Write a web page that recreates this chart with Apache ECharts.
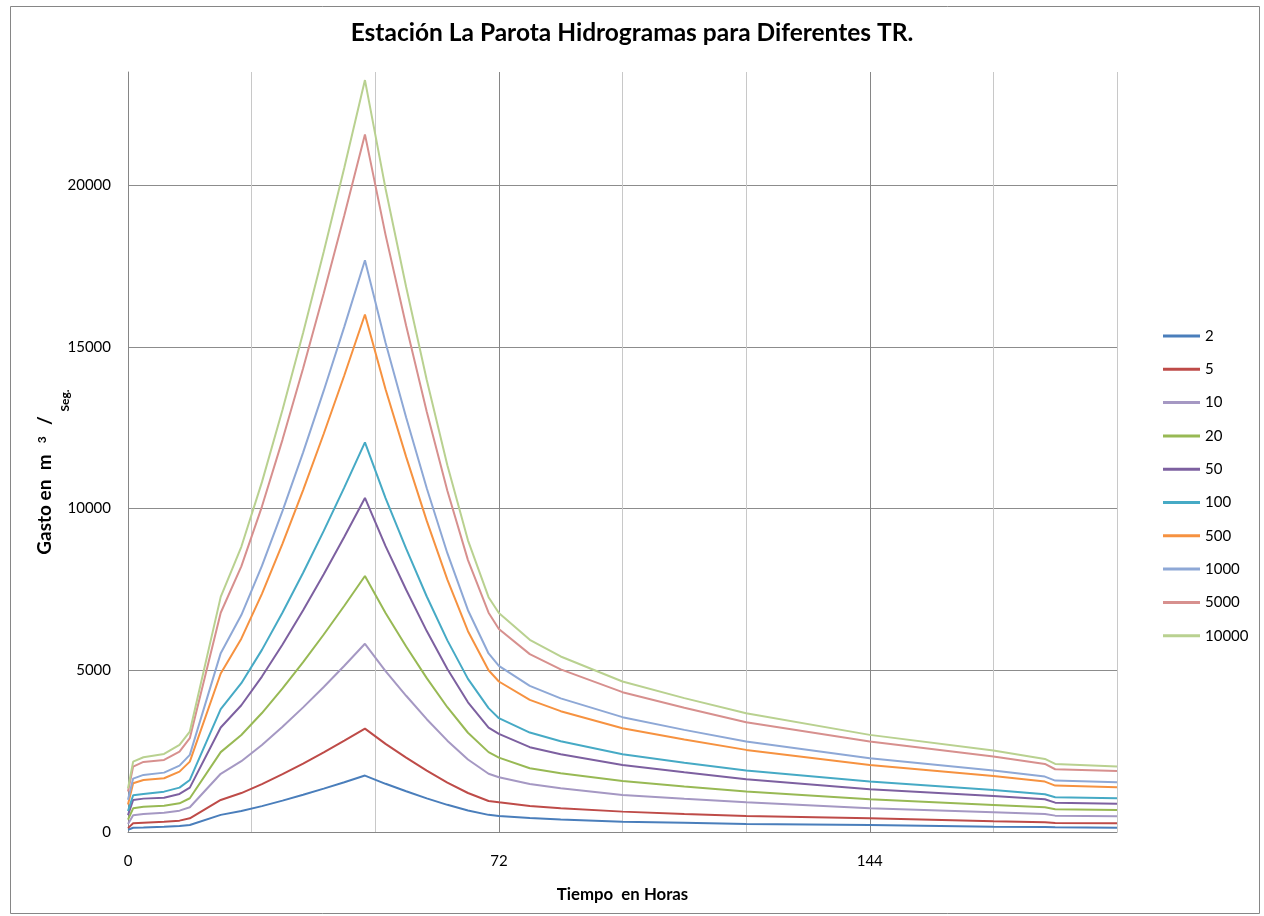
<!DOCTYPE html>
<html><head><meta charset="utf-8">
<script src="https://cdn.jsdelivr.net/npm/echarts@6/dist/echarts.min.js"></script>
<style>html,body{margin:0;padding:0;background:#fff}#c{width:1264px;height:916px}</style>
</head><body><div id="c"></div>
<script>
// Time axis (hours)
const hours = [0, 1, 3, 7, 10, 12, 18, 22, 26, 30, 34, 38, 42, 46, 50, 54, 58, 62, 66, 70, 72, 78, 84, 96, 108, 120, 144, 168, 178, 180, 192];
// Return periods (legend names)
const trNames = ['2', '5', '10', '20', '50', '100', '500', '1000', '5000', '10000'];
// Discharge values (m3/s) for each return period
const tr2 = [70, 133, 140, 160, 185, 215, 530, 648, 800, 970, 1151, 1342, 1540, 1745, 1490, 1259, 1040, 840, 664, 530, 495, 430, 386, 320, 283, 248, 217, 165, 155, 145, 134];
const tr5 = [120, 268, 288, 320, 351, 424, 990, 1204, 1480, 1788, 2117, 2463, 2822, 3195, 2726, 2301, 1899, 1530, 1206, 960, 919, 805, 735, 630, 560, 495, 424, 330, 299, 279, 268];
const tr10 = [250, 516, 557, 598, 660, 764, 1800, 2190, 2692, 3255, 3854, 4485, 5141, 5820, 4976, 4212, 3488, 2825, 2242, 1800, 1693, 1486, 1350, 1146, 1028, 919, 733, 609, 557, 506, 485];
const tr20 = [380, 733, 784, 815, 888, 1043, 2470, 2998, 3679, 4441, 5252, 6107, 6995, 7915, 6772, 5737, 4757, 3858, 3069, 2470, 2301, 1972, 1815, 1579, 1407, 1249, 1012, 836, 764, 702, 681];
const tr50 = [520, 990, 1032, 1062, 1176, 1372, 3230, 3919, 4806, 5800, 6858, 7973, 9130, 10330, 8839, 7490, 6212, 5041, 4011, 3230, 3034, 2622, 2403, 2074, 1844, 1631, 1321, 1115, 1012, 908, 877];
const tr100 = [650, 1135, 1176, 1248, 1372, 1610, 3800, 4600, 5632, 6787, 8016, 9311, 10656, 12050, 10324, 8762, 7282, 5926, 4734, 3830, 3520, 3075, 2807, 2405, 2142, 1899, 1558, 1300, 1166, 1073, 1043];
const tr500 = [850, 1507, 1610, 1661, 1867, 2177, 4900, 5977, 7364, 8918, 10572, 12315, 14124, 16000, 13690, 11600, 9620, 7805, 6210, 5000, 4654, 4087, 3736, 3210, 2861, 2539, 2074, 1734, 1558, 1434, 1383];
const tr1000 = [1000, 1651, 1765, 1836, 2053, 2384, 5530, 6709, 8227, 9928, 11739, 13646, 15627, 17680, 15126, 12816, 10627, 8621, 6858, 5520, 5139, 4520, 4132, 3551, 3158, 2796, 2281, 1899, 1713, 1590, 1537];
const tr5000 = [1250, 2022, 2167, 2229, 2486, 2901, 6780, 8215, 10063, 12134, 14338, 16660, 19070, 21570, 18464, 15654, 12992, 10551, 8407, 6780, 6275, 5500, 5030, 4324, 3841, 3395, 2796, 2331, 2105, 1940, 1888];
const tr10000 = [1350, 2177, 2312, 2415, 2693, 3106, 7270, 8820, 10818, 13055, 15436, 17945, 20549, 23250, 19892, 16854, 13976, 11337, 9019, 7260, 6770, 5944, 5428, 4654, 4139, 3674, 3003, 2517, 2260, 2105, 2023];
// Tick labels shown
const xTickLabels = [0, 72, 144];
const yTicks = [0, 5000, 10000, 15000, 20000];

const allSeries = [tr2, tr5, tr10, tr20, tr50, tr100, tr500, tr1000, tr5000, tr10000];
const colors = ['#4A7EBB', '#BE4B48', '#A598C3', '#98B954', '#7D60A0', '#46AAC5', '#F69240', '#8EA8D6', '#D7908E', '#B9D190'];

const FONT = 'Lato, "Liberation Sans", sans-serif';
const chart = echarts.init(document.getElementById('c'), null, {renderer: 'canvas'});
const option = {
  backgroundColor: '#fff',
  animation: false,
  color: colors,
  title: {
    text: 'Estación La Parota Hidrogramas para Diferentes TR.',
    left: 'center', top: 16,
    textStyle: {fontFamily: FONT, fontWeight: 'bold', fontSize: 24.5, color: '#000'}
  },
  graphic: [{
    type: 'rect', left: 8, top: 4,
    shape: {width: 1249, height: 907},
    style: {fill: 'none', stroke: '#868686', lineWidth: 1}, silent: true
  }],
  grid: {left: 128, right: 147, top: 72, bottom: 84, containLabel: false},
  legend: {
    orient: 'vertical', left: 1158, top: 323,
    icon: 'rect', itemWidth: 37, itemHeight: 3, itemGap: 17.3,
    data: trNames,
    textStyle: {fontFamily: FONT, fontSize: 15, color: '#000', lineHeight: 16}
  },
  xAxis: {
    type: 'value', min: 0, max: 192, interval: 24,
    axisLine: {show: true, lineStyle: {color: '#868686', width: 1}},
    axisTick: {show: false},
    axisLabel: {
      margin: 22, fontFamily: FONT, fontSize: 15, color: '#000',
      formatter: v => (xTickLabels.indexOf(v) >= 0 ? String(v) : '')
    },
    splitLine: {show: true, lineStyle: {color: ['#868686', '#c8c8c8', '#c8c8c8'], width: 1}},
    name: 'Tiempo  en Horas', nameLocation: 'middle', nameGap: 54,
    nameTextStyle: {fontFamily: FONT, fontWeight: 'bold', fontSize: 16.8, color: '#000'}
  },
  yAxis: {
    type: 'value', min: 0, max: 23500, interval: 5000,
    axisLine: {show: true, lineStyle: {color: '#868686', width: 1}},
    axisTick: {show: false},
    axisLabel: {
      margin: 17, fontFamily: FONT, fontSize: 15, color: '#000', showMaxLabel: false,
      formatter: v => (yTicks.indexOf(v) >= 0 ? String(v) : '')
    },
    splitLine: {show: true, showMaxLine: false, lineStyle: {color: '#8c8c8c', width: 1}},
    name: '{a|Gasto en  m  }{sup|3}{a|  / }{sub|Seg.}',
    nameLocation: 'middle', nameRotate: 90, nameGap: 57, nameMoveOverlap: false,
    nameTextStyle: {
      padding: [0, 40, 0, 0],
      rich: {
        a: {fontFamily: FONT, fontWeight: 'bold', fontSize: 19, color: '#000'},
        sup: {fontFamily: FONT, fontWeight: 'bold', fontSize: 12, color: '#000', padding: [0, 2, 6, 2]},
        sub: {fontFamily: FONT, fontWeight: 'bold', fontSize: 12, color: '#000', padding: [40, 0, 0, 0]}
      }
    }
  },
  series: allSeries.map((arr, i) => ({
    name: trNames[i],
    type: 'line',
    symbol: 'none',
    showSymbol: false,
    lineStyle: {width: 2, color: colors[i]},
    itemStyle: {color: colors[i]},
    data: hours.map((h, k) => [h, arr[k]])
  }))
};
chart.setOption(option);
</script>
</body></html>
